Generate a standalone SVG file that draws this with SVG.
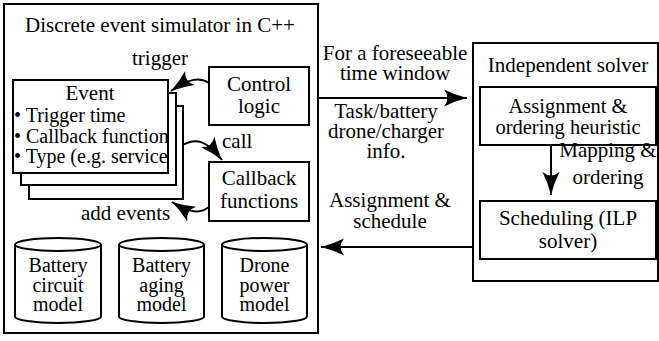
<svg xmlns="http://www.w3.org/2000/svg" width="659" height="341" viewBox="0 0 659 341">
<style>
.b{fill:#fff;stroke:#000;stroke-width:2}
.c{fill:none;stroke:#000;stroke-width:2}
text{font-family:"Liberation Serif","Times New Roman",serif;font-size:21px;fill:#000}
.m{text-anchor:middle}
.s{font-size:20px}
</style>
<defs>
<marker id="ah" markerUnits="userSpaceOnUse" markerWidth="30" markerHeight="20" viewBox="-24 -10 26 20" refX="0" refY="0" orient="auto">
<path d="M0,0 Q-12,-3 -23,-8.5 Q-16,0 -23,8.5 Q-12,3 0,0 Z" fill="#000"/>
</marker>
</defs>
<rect width="659" height="341" fill="#fff"/>
<g id="simulator">
<rect class="b" x="4" y="4" width="314" height="329"/>
<text class="m" x="160" y="32">Discrete event simulator in C++</text>
</g>
<g id="event">
<rect class="b" x="29" y="106" width="154" height="93"/>
<rect class="b" x="21" y="93" width="155" height="92"/>
<rect class="b" x="13" y="80" width="155" height="93"/>
<text class="m" x="90" y="100">Event</text>
<text class="s" x="14" y="122">• Trigger time</text>
<text class="s" x="14" y="143">• Callback function</text>
<text class="s" x="14" y="163">• Type (e.g. service</text>
</g>
<g id="control">
<rect class="b" x="209" y="67" width="100" height="58"/>
<text class="m" x="259" y="91">Control</text>
<text class="m" x="259" y="113">logic</text>
</g>
<g id="callback">
<rect class="b" x="209" y="162" width="100" height="59"/>
<text class="m" x="259" y="185">Callback</text>
<text class="m" x="259" y="208">functions</text>
</g>
<g id="battery-circuit">
<path class="b" d="M15,244.5 L15,316.5 A43,6.5 0 0 0 101,316.5 L101,244.5"/>
<ellipse class="b" cx="58" cy="244.5" rx="43" ry="6.5"/>
<text class="m s" x="58" y="272">Battery</text>
<text class="m s" x="58" y="292">circuit</text>
<text class="m s" x="58" y="311">model</text>
</g>
<g id="battery-aging">
<path class="b" d="M119,244.5 L119,316.5 A42.5,6.5 0 0 0 204,316.5 L204,244.5"/>
<ellipse class="b" cx="161.5" cy="244.5" rx="42.5" ry="6.5"/>
<text class="m s" x="161.5" y="272">Battery</text>
<text class="m s" x="161.5" y="292">aging</text>
<text class="m s" x="161.5" y="311">model</text>
</g>
<g id="drone-power">
<path class="b" d="M222,244.5 L222,316.5 A42.5,6.5 0 0 0 307,316.5 L307,244.5"/>
<ellipse class="b" cx="264.5" cy="244.5" rx="42.5" ry="6.5"/>
<text class="m s" x="264.5" y="272">Drone</text>
<text class="m s" x="264.5" y="292">power</text>
<text class="m s" x="264.5" y="311">model</text>
</g>
<g id="solver">
<rect class="b" x="473" y="43" width="185" height="238"/>
<text class="m" x="568" y="72">Independent solver</text>
</g>
<g id="heuristic">
<rect class="b" x="480" y="87" width="176" height="58"/>
<text class="m" x="568" y="113" style="font-size:20.5px">Assignment &amp;</text>
<text class="m" x="568" y="134" style="font-size:20.5px">ordering heuristic</text>
</g>
<g id="scheduling">
<rect class="b" x="480" y="201" width="176" height="58"/>
<text class="m" x="568" y="225">Scheduling (ILP</text>
<text class="m" x="568" y="248">solver)</text>
</g>
<g id="connectors">
<path class="c" d="M209,83 C200,77 190,78 171,91" marker-end="url(#ah)"/>
<path class="c" d="M183,145 C196,137 207,141 222,160" marker-end="url(#ah)"/>
<path class="c" d="M209,207 C200,214 190,213 172,202" marker-end="url(#ah)"/>
<path class="c" d="M318,98 L467,98" marker-end="url(#ah)"/>
<path class="c" d="M473,247 L321,247" marker-end="url(#ah)"/>
<path class="c" d="M551,145 L551,195" marker-end="url(#ah)"/>
<text class="m" x="160" y="65">trigger</text>
<text x="222" y="148">call</text>
<text x="81" y="220">add events</text>
<text class="m" x="395" y="60">For a foreseeable</text>
<text class="m" x="395" y="80">time window</text>
<text class="m" x="386" y="118">Task/battery</text>
<text class="m" x="386" y="138">drone/charger</text>
<text class="m" x="386" y="158">info.</text>
<text class="m" x="390" y="207">Assignment &amp;</text>
<text class="m" x="390" y="228">schedule</text>
<text class="m" x="608" y="157">Mapping &amp;</text>
<text class="m" x="608" y="184">ordering</text>
</g>
</svg>
